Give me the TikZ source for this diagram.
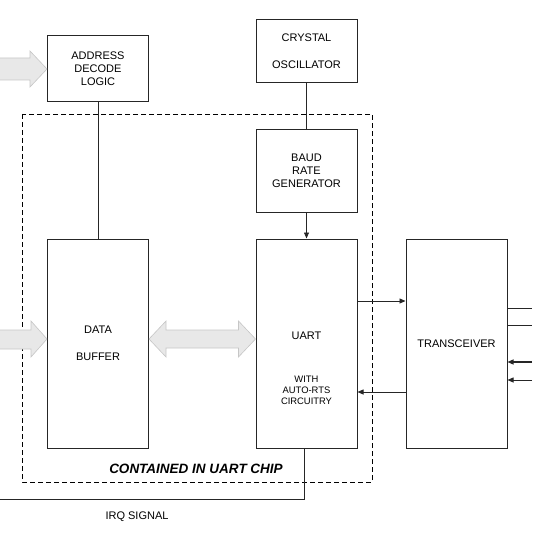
\documentclass[tikz,border=0pt]{standalone}
\usepackage{fontspec}
\setmainfont{Liberation Sans}
\usetikzlibrary{arrows.meta, calc}

\begin{document}
\begin{tikzpicture}[
  x=1pt, y=-1pt,
  >={Triangle[length=6pt, width=5pt]},
  font=\fontsize{11}{13}\selectfont,
  blk/.style={draw=black!85, line width=1pt, minimum width=101pt, align=center},
  wire/.style={draw=black!85, line width=0.8pt},
  fatarrow/.style={fill=gray!18, draw=gray!45, line width=0.6pt},
  ]
  \useasboundingbox (0,0) rectangle (532,540);

  % chip outline
  \draw[dash pattern=on 5pt off 3pt, line width=0.8pt] (22,114) rectangle (372,482);
  \node[font=\fontsize{13.5}{15}\selectfont\bfseries\itshape] (chiplbl) at (196,469) {CONTAINED IN UART CHIP};

  % blocks
  \node[blk, minimum height=66pt] (addr) at (98,69) {ADDRESS\\DECODE\\LOGIC};
  \node[blk, minimum height=63pt] (xtal) at (306.5,51.5) {CRYSTAL\\[14pt]OSCILLATOR};
  \node[blk, minimum height=82pt] (baud) at (306.5,171) {BAUD\\RATE\\GENERATOR};
  \node[blk, minimum height=209pt] (buf) at (98,343.5) {DATA\\[14pt]BUFFER};
  \node[blk, minimum height=209pt] (uart) at (306.5,343.5) {};
  \node[blk, minimum height=209pt] (xcvr) at (456.5,343.5) {TRANSCEIVER};

  % text inside the UART box
  \node (uartlbl) at ($(uart.center)+(0,-8)$) {UART};
  \node[font=\fontsize{9.4}{11}\selectfont, align=center] (rtslbl) at ($(uart.center)+(0,47)$) {WITH\\AUTO-RTS\\CIRCUITRY};

  % plain connections
  \draw[wire] (addr) -- (buf);
  \draw[wire] (xtal) -- (baud);
  \draw[wire, ->] (baud) -- (uart);
  \draw[wire, ->] ([yshift=42.5pt]uart.east) -- ([yshift=42.5pt]xcvr.west);
  \draw[wire, ->] ([yshift=-48.5pt]xcvr.east -| xcvr.west) -- ([yshift=-48.5pt]uart.east);

  % lines on the line side of the transceiver
  \coordinate (out1) at (532,308);
  \coordinate (out2) at (532,325);
  \coordinate (in1) at (532,362);
  \coordinate (in2) at (532,380);
  \draw[wire] (xcvr.east |- out1) -- (out1);
  \draw[wire] (xcvr.east |- out2) -- (out2);
  \draw[wire, line width=1.3pt, ->] (in1) -- (xcvr.east |- in1);
  \draw[wire, ->] (in2) -- (xcvr.east |- in2);

  % interrupt line
  \coordinate (irqend) at (0,499);
  \draw[wire] ([xshift=-2.5pt]uart.south) |- (irqend);
  \node (irqlbl) at (137,517) {IRQ SIGNAL};

  % bus arrows
  \draw[fatarrow] (addr.west) -- ++(-17,-18) -- ++(0,7) -- ++(-31,0)
    -- ++(0,22) -- ++(31,0) -- ++(0,7) -- cycle;
  \draw[fatarrow] ([yshift=4.5pt]buf.west) -- ++(-16,-18) -- ++(0,9) -- ++(-32,0)
    -- ++(0,19) -- ++(32,0) -- ++(0,8) -- cycle;
  \draw[fatarrow] ([yshift=4.5pt]buf.east) -- ++(17,-18) -- ++(0,9)
    -- ([xshift=-17pt,yshift=13.5pt]uart.west) -- ++(0,-9)
    -- ([yshift=4.5pt]uart.west) -- ++(-17,18) -- ++(0,-9)
    -- ([xshift=17pt,yshift=-4.5pt]buf.east) -- ++(0,9) -- cycle;
\end{tikzpicture}
\end{document}
